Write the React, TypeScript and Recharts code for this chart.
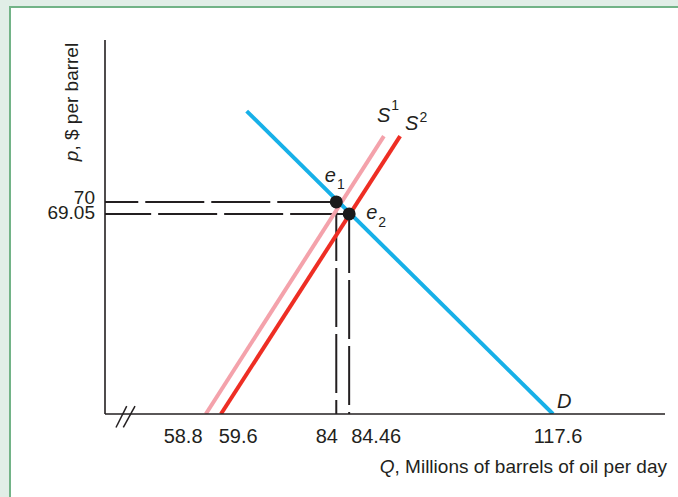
import React from 'react';
import { ComposedChart, Line, XAxis, YAxis, ReferenceLine } from 'recharts';

// The diagram is schematic (not drawn to scale), so the curves live in
// layout units: quantity 0-100 across the plot, price 0-100 up it.
const supplyBefore = [{ x: 18.0, y: 0 }, { x: 49.8, y: 74.3 }];
const supplyAfter = [{ x: 20.7, y: 0 }, { x: 52.7, y: 74.3 }];
const demand = [{ x: 25.3, y: 81.0 }, { x: 80.0, y: 0 }];
const equilibria = [
  { x: 41.3, y: 56.7 },
  { x: 43.6, y: 53.5 },
];

// tick labels, ordered left to right / bottom to top
const quantityLabels = ['58.8', '59.6', '84', '84.46', '117.6'];
const priceLabels = ['69.05', '70'];

// the two slashes marking the broken quantity axis
const axisBreak = [
  [{ x: 1.96, y: -3.6 }, { x: 3.88, y: 2.1 }],
  [{ x: 3.27, y: -3.6 }, { x: 5.36, y: 2.1 }],
];

const quantityTicks = [supplyBefore[0].x, supplyAfter[0].x, equilibria[0].x, equilibria[1].x, demand[1].x];
const priceTicks = [equilibria[1].y, equilibria[0].y];

// dashed guides run from each equilibrium point out to the axes
const guides = equilibria.flatMap((e) => [
  [{ x: e.x, y: e.y }, { x: 0, y: e.y }],
  [{ x: e.x, y: e.y }, { x: e.x, y: 0 }],
]);

const FONT = '"Liberation Sans", Arial, Helvetica, sans-serif';
const INK = '#231f20';
const BLUE = '#17b0e8';
const RED = '#ee2e24';
const PINK = '#f4a2ab';

// tick labels are spread apart so neighbours don't collide
const quantityNudge = [-22.7, 17.3, -9.5, 27, 5];
const priceNudge = [5, 2.5];

const QuantityTick = (props: any) => {
  const { x, y, index } = props;
  return (
    <text x={x + quantityNudge[index]} y={y} textAnchor="middle" fill={INK} fontSize={20} fontFamily={FONT}>
      {quantityLabels[index]}
    </text>
  );
};

const PriceTick = (props: any) => {
  const { x, y, index } = props;
  return (
    <text x={x - 10} y={y + priceNudge[index]} textAnchor="end" fill={INK} fontSize={19} fontFamily={FONT}>
      {priceLabels[index]}
    </text>
  );
};

const anchorOf = (props: any) => {
  const vb = props.viewBox || {};
  return { x: props.x ?? vb.x, y: props.y ?? vb.y };
};

// italic letter with a small super/subscript, placed next to one point of a series
const curveLabel = (
  at: number,
  main: string,
  script: string,
  dx: number,
  dy: number,
  scriptDy: number,
) => (props: any) => {
  if (props.index !== at) return null;
  const p = anchorOf(props);
  return (
    <text x={p.x + dx} y={p.y + dy} fill={INK} fontSize={20} fontFamily={FONT}>
      <tspan fontStyle="italic">{main}</tspan>
      {script ? (
        <tspan fontSize={14} dx={1} dy={scriptDy}>
          {script}
        </tspan>
      ) : null}
    </text>
  );
};

const equilibriumLabel = (props: any) => {
  const p = anchorOf(props);
  const first = props.index === 0;
  return (
    <text x={p.x + (first ? -11.5 : 17)} y={p.y + (first ? -20 : 5)} fill={INK} fontSize={20} fontFamily={FONT}>
      <tspan fontStyle="italic">e</tspan>
      <tspan fontSize={14} dx={1} dy={first ? 7 : 8}>
        {first ? '1' : '2'}
      </tspan>
    </text>
  );
};

const PriceTitle = (props: any) => {
  const vb = props.viewBox;
  const x = vb.x + vb.width - 27;
  const y = vb.y + 62;
  return (
    <text x={x} y={y} transform={`rotate(-90, ${x}, ${y})`} textAnchor="middle" fill={INK} fontSize={19} fontFamily={FONT}>
      <tspan fontStyle="italic">p</tspan>, $ per barrel
    </text>
  );
};

const QuantityTitle = (props: any) => {
  const vb = props.viewBox;
  return (
    <text x={vb.x + vb.width + 2} y={vb.y + 59} textAnchor="end" fill={INK} fontSize={19} fontFamily={FONT}>
      <tspan fontStyle="italic">Q</tspan>, Millions of barrels of oil per day
    </text>
  );
};

export default function App() {
  return (
    <div
      style={{
        position: 'absolute',
        left: 0,
        top: 0,
        width: 678,
        height: 497,
        overflow: 'hidden',
        background: '#e1eee7',
        fontFamily: FONT,
      }}
    >
      <div
        style={{
          position: 'absolute',
          left: 9,
          top: 6,
          width: 720,
          height: 540,
          background: '#ffffff',
          border: '2px solid #72b387',
        }}
      />
      <div style={{ position: 'absolute', left: 0, top: 0 }}>
        <ComposedChart width={678} height={497} margin={{ top: 40, right: 13, bottom: 0, left: 0 }}>
          <XAxis
            type="number"
            dataKey="x"
            domain={[0, 100]}
            allowDataOverflow
            ticks={quantityTicks}
            interval={0}
            height={83}
            tickSize={0}
            tickMargin={29}
            tickLine={false}
            axisLine={{ stroke: INK, strokeWidth: 1.6 }}
            tick={QuantityTick}
            label={{ content: QuantityTitle }}
          />
          <YAxis
            type="number"
            dataKey="y"
            domain={[0, 100]}
            allowDataOverflow
            ticks={priceTicks}
            interval={0}
            width={105}
            tickSize={0}
            tickMargin={0}
            tickLine={false}
            axisLine={{ stroke: INK, strokeWidth: 1.6 }}
            tick={PriceTick}
            label={{ content: PriceTitle }}
          />
          {axisBreak.map((seg, i) => (
            <ReferenceLine key={`break-${i}`} segment={seg} stroke={INK} strokeWidth={1.5} ifOverflow="visible" />
          ))}
          {guides.map((seg, i) => (
            <Line
              key={`guide-${i}`}
              data={seg}
              dataKey="y"
              type="linear"
              stroke={INK}
              strokeWidth={2}
              strokeDasharray="59 7"
              dot={false}
              activeDot={false}
              isAnimationActive={false}
            />
          ))}
          <Line
            data={supplyBefore}
            dataKey="y"
            type="linear"
            stroke={PINK}
            strokeWidth={4}
            dot={false}
            activeDot={false}
            isAnimationActive={false}
            label={curveLabel(1, 'S', '1', -7, -14, -12)}
          />
          <Line
            data={supplyAfter}
            dataKey="y"
            type="linear"
            stroke={RED}
            strokeWidth={4}
            dot={false}
            activeDot={false}
            isAnimationActive={false}
            label={curveLabel(1, 'S', '2', 5, -6, -8)}
          />
          <Line
            data={demand}
            dataKey="y"
            type="linear"
            stroke={BLUE}
            strokeWidth={4}
            dot={false}
            activeDot={false}
            isAnimationActive={false}
            label={curveLabel(1, 'D', '', 4, -6, 0)}
          />
          <Line
            data={equilibria}
            dataKey="y"
            type="linear"
            stroke="none"
            dot={{ r: 6.5, fill: '#1b1b1b', stroke: 'none' }}
            activeDot={false}
            isAnimationActive={false}
            label={equilibriumLabel}
          />
        </ComposedChart>
      </div>
    </div>
  );
}
